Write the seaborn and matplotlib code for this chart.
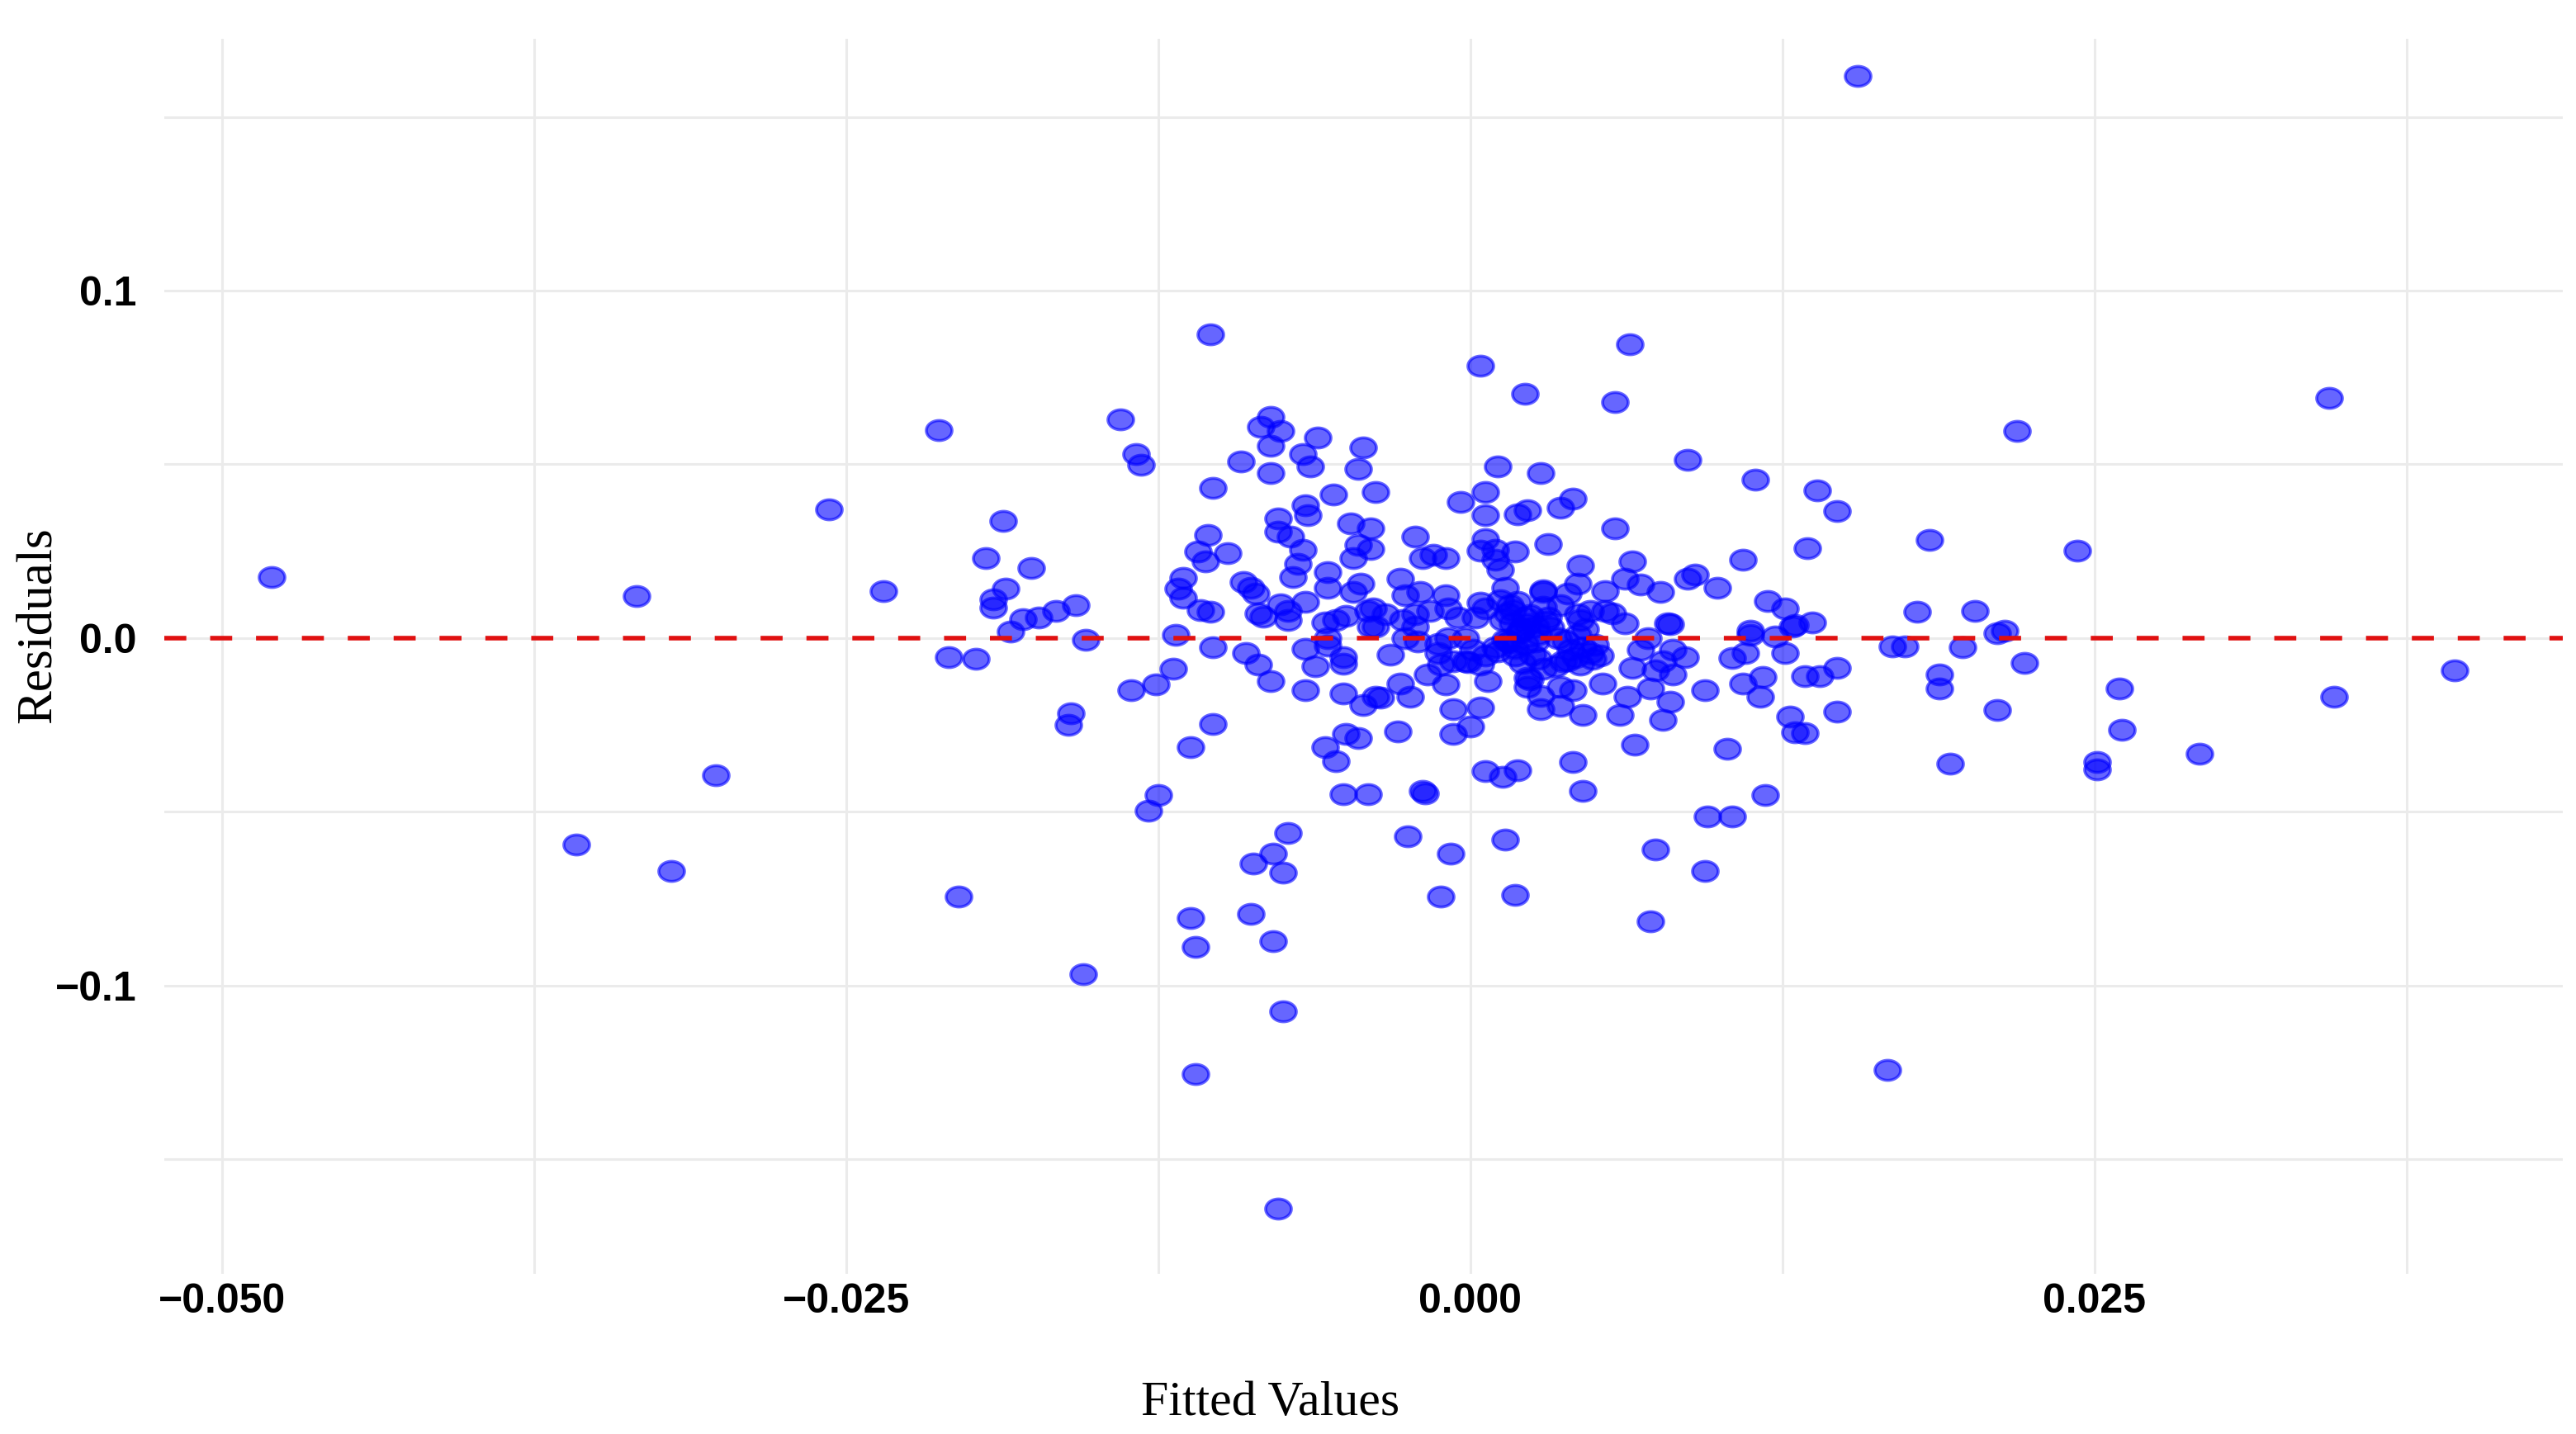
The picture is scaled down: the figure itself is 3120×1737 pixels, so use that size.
import numpy as np
import pandas as pd
import seaborn as sns
import matplotlib.pyplot as plt
from matplotlib.path import Path
from matplotlib.markers import MarkerStyle
from matplotlib.ticker import FixedLocator

# fitted values / residuals
fitted = [
    # left outliers
    -0.0480, -0.0334, -0.0302, -0.0358, -0.0320, -0.0257, -0.0235, -0.0213,
    # left-centre block
    -0.0104, -0.0140, -0.0134, -0.0132, -0.0187, -0.0194, -0.0176, -0.0186,
    -0.0191, -0.0191, -0.0179, -0.0173, -0.0166, -0.0158, -0.0184, -0.0154,
    -0.0209, -0.0198, -0.0160, -0.0161, -0.0118, -0.0103, -0.0119, -0.0126,
    -0.0136, -0.0103, -0.0112, -0.0103, -0.0092, -0.0084, -0.0080, -0.0076,
    -0.0080, -0.0080, -0.0067, -0.0064, -0.0061, -0.0043, -0.0045, -0.0055,
    -0.0066, -0.0065, -0.0038, -0.0077, -0.0077, -0.0072, -0.0067, -0.0069,
    -0.0071, -0.0105, -0.0109, -0.0106, -0.0097, -0.0115, -0.0117, -0.0115,
    -0.0108, -0.0104, -0.0091, -0.0088, -0.0086, -0.0085, -0.0083, -0.0076,
    -0.0073, -0.0073, -0.0066, -0.0057, -0.0057, -0.0048, -0.0040, -0.0045,
    -0.0040, -0.0047, -0.0044, -0.0047, -0.0058, -0.0054, -0.0050, -0.0041,
    -0.0040, -0.0057, -0.0066, -0.0062, -0.0051, -0.0051, -0.0057, -0.0090,
    -0.0085, -0.0080, -0.0066, -0.0051, -0.0043, -0.0038, -0.0050, -0.0045,
    -0.0058, -0.0054,
    # centre block
    0.0064, 0.0004, 0.0022, 0.0058, 0.0087, 0.0114, 0.0011, 0.0028,
    0.0006, -0.0004, 0.0006, 0.0019, 0.0023, 0.0036, 0.0041, -0.0022,
    -0.0019, -0.0015, -0.0010, 0.0031, 0.0058, 0.0006, 0.0004, 0.0010,
    0.0018, 0.0010, 0.0012, 0.0014, 0.0044, 0.0065, 0.0109, 0.0087,
    0.0090, 0.0099, 0.0062, 0.0068, 0.0076, 0.0054, 0.0043, 0.0029,
    0.0029, -0.0028, -0.0026, -0.0020, -0.0010, 0.0119, 0.0126, 0.0079,
    0.0080, 0.0129, 0.0112, 0.0112, 0.0122, 0.0126, 0.0110, 0.0105,
    0.0109, 0.0117, 0.0116, 0.0128, 0.0130, 0.0094, 0.0103, 0.0066,
    0.0041, 0.0071, 0.0068, 0.0081, 0.0086, 0.0077, 0.0065, 0.0074,
    0.0081, 0.0072, 0.0080, 0.0077, 0.0063, 0.0060, 0.0053, 0.0045,
    0.0041, 0.0036, 0.0036, 0.0028, 0.0028, 0.0023, 0.0024, 0.0023,
    0.0029, 0.0007, 0.0004, -0.0007, 0.0000, -0.0007, -0.0010, -0.0017,
    -0.0028, -0.0024, -0.0036, -0.0029, -0.0032, -0.0012, -0.0002, -0.0001,
    0.0052,
    # dense core
    0.0016, 0.0013, 0.0017, 0.0022, 0.0026, 0.0020, 0.0015, 0.0022,
    0.0026, 0.0018, 0.0010, 0.0006, 0.0031, 0.0036, 0.0039, 0.0043,
    0.0048, 0.0054, 0.0057, 0.0062, 0.0043, 0.0040, 0.0045, 0.0037,
    0.0044, 0.0048, 0.0035, 0.0004, 0.0006, 0.0002, -0.0005, -0.0009,
    -0.0016, -0.0022, -0.0027, -0.0034, -0.0039, -0.0038, -0.0022, -0.0026,
    -0.0021, -0.0013, -0.0009, -0.0002, 0.0001, -0.0013, -0.0007, 0.0004,
    0.0012, 0.0015, 0.0019, 0.0021, 0.0024, 0.0027, 0.0030, 0.0014,
    0.0018, 0.0023, 0.0027, 0.0011, 0.0016, 0.0020, 0.0025, 0.0032,
    0.0038, 0.0042, 0.0046, 0.0050, 0.0039, 0.0044, 0.0049, 0.0034,
    0.0017, 0.0021, 0.0029,
    # right-centre block
    0.0219, 0.0139, 0.0147, 0.0135, 0.0184, 0.0243, 0.0179, 0.0202,
    0.0137, 0.0130, 0.0214, 0.0211, 0.0169, 0.0174, 0.0197, 0.0222,
    0.0147, 0.0134, 0.0140, 0.0188, 0.0188, 0.0147, 0.0134, 0.0211,
    0.0260, 0.0261, 0.0292, 0.0192, 0.0251, 0.0251,
    # lower block
    -0.0125, -0.0129, -0.0051, -0.0041, -0.0073, -0.0079, -0.0087, -0.0075,
    -0.0205, -0.0112, -0.0088, -0.0079, -0.0110, -0.0155, -0.0075, -0.0110,
    -0.0077, -0.0019, -0.0018, -0.0025, -0.0008, -0.0012, 0.0014, 0.0018,
    0.0045, 0.0006, 0.0013, 0.0019, 0.0074, 0.0094, 0.0072, 0.0095,
    0.0105, 0.0118, 0.0167,
    # top and right outliers
    0.0155, 0.0344, 0.0346, 0.0394,
]

residuals = [
    0.0176, 0.0121, -0.0394, -0.0594, -0.0670, 0.0371, 0.0135, 0.0599,
    0.0874, 0.0629, 0.0529, 0.0499, 0.0338, 0.0231, 0.0202, 0.0142,
    0.0112, 0.0088, 0.0055, 0.0060, 0.0077, 0.0095, 0.0019, -0.0004,
    -0.0055, -0.0060, -0.0217, -0.0251, 0.0009, -0.0027, -0.0089, -0.0134,
    -0.0149, -0.0247, -0.0313, 0.0432, 0.0508, 0.0608, 0.0636, 0.0597,
    0.0554, 0.0474, 0.0529, 0.0493, 0.0576, 0.0548, 0.0486, 0.0414,
    0.0383, 0.0353, 0.0421, 0.0344, 0.0306, 0.0293, 0.0253, 0.0214,
    0.0176, 0.0296, 0.0248, 0.0221, 0.0244, 0.0174, 0.0143, 0.0115,
    0.0081, 0.0075, 0.0162, 0.0145, 0.0129, 0.0070, 0.0061, 0.0098,
    0.0077, 0.0051, 0.0104, 0.0189, 0.0145, 0.0329, 0.0316, 0.0268,
    0.0257, 0.0230, 0.0157, 0.0132, 0.0044, 0.0051, 0.0064, 0.0077,
    0.0034, 0.0000, -0.0032, -0.0081, -0.0055, -0.0075, -0.0021, -0.0043,
    -0.0077, -0.0123, -0.0151, -0.0160, -0.0194, -0.0170, -0.0276, -0.0287,
    -0.0315, -0.0355,
    0.0846, 0.0784, 0.0703, 0.0679, 0.0513, 0.0455, 0.0495, 0.0476,
    0.0421, 0.0391, 0.0353, 0.0355, 0.0367, 0.0376, 0.0401, 0.0291,
    0.0231, 0.0240, 0.0230, 0.0270, 0.0316, 0.0285, 0.0251, 0.0255,
    0.0248, 0.0225, 0.0196, 0.0145, 0.0208, 0.0221, 0.0225, 0.0170,
    0.0183, 0.0145, 0.0170, 0.0153, 0.0132, 0.0134, 0.0157, 0.0138,
    0.0132, 0.0170, 0.0123, 0.0133, 0.0123, 0.0106, 0.0085, 0.0043,
    0.0040, 0.0034, 0.0021, 0.0009, 0.0004, -0.0043, -0.0043, -0.0058,
    -0.0132, -0.0111, -0.0170, -0.0225, -0.0272, -0.0149, -0.0319, -0.0306,
    -0.0357, 0.0000, -0.0034, -0.0034, -0.0055, -0.0068, -0.0085, -0.0094,
    -0.0106, -0.0145, -0.0183, -0.0236, -0.0170, -0.0221, -0.0132, -0.0221,
    -0.0149, -0.0140, -0.0196, -0.0204, -0.0166, -0.0115, -0.0118, -0.0140,
    -0.0089, -0.0123, -0.0200, -0.0204, -0.0255, -0.0276, -0.0134, -0.0106,
    -0.0132, -0.0170, -0.0172, -0.0268, -0.0047, -0.0077, -0.0068, -0.0070,
    -0.0051,
    0.0094, 0.0051, 0.0043, 0.0060, 0.0034, 0.0017, -0.0009, -0.0017,
    -0.0009, -0.0051, -0.0026, -0.0051, 0.0060, 0.0094, 0.0128, 0.0068,
    0.0077, 0.0077, 0.0072, 0.0043, 0.0009, -0.0034, -0.0026, -0.0068,
    -0.0077, -0.0043, 0.0000, 0.0102, 0.0085, 0.0060, 0.0060, 0.0085,
    0.0077, 0.0068, 0.0051, 0.0068, 0.0085, 0.0034, 0.0034, 0.0000,
    -0.0009, -0.0017, 0.0000, 0.0000, -0.0034, -0.0043, -0.0068, -0.0077,
    0.0110, 0.0072, 0.0105, 0.0028, 0.0066, 0.0012, 0.0047, -0.0004,
    -0.0030, 0.0040, -0.0060, -0.0038, -0.0012, 0.0022, -0.0048, 0.0030,
    -0.0008, -0.0055, 0.0025, -0.0020, -0.0065, 0.0053, -0.0060, -0.0080,
    0.0080, -0.0072, 0.0090,
    0.0595, 0.0425, 0.0366, 0.0259, 0.0282, 0.0251, 0.0075, 0.0077,
    0.0044, 0.0038, 0.0021, 0.0013, -0.0024, -0.0024, -0.0026, -0.0071,
    -0.0085, -0.0109, -0.0109, -0.0104, -0.0146, -0.0213, -0.0274, -0.0206,
    -0.0146, -0.0264, -0.0333, -0.0361, -0.0357, -0.0378,
    -0.0451, -0.0497, -0.0449, -0.0449, -0.0560, -0.0621, -0.0648, -0.0675,
    -0.0744, -0.0807, -0.0793, -0.0872, -0.0888, -0.0968, -0.1074, -0.1254,
    -0.1643, -0.0440, -0.0448, -0.0570, -0.0621, -0.0744, -0.0581, -0.0739,
    -0.0440, -0.0382, -0.0399, -0.0380, -0.0608, -0.0670, -0.0815, -0.0514,
    -0.0514, -0.0453, -0.1244,
    0.1618, 0.0691, -0.0169, -0.0093,
]

x_ticks = [-0.050, -0.025, 0.000, 0.025]
x_labels = ['\u22120.050', '\u22120.025', '0.000', '0.025']
y_ticks = [-0.1, 0.0, 0.1]
y_labels = ['\u22120.1', '0.0', '0.1']

df = pd.DataFrame({'fitted': fitted, 'residuals': residuals})

sns.set_theme(style='white')
plt.rcParams['font.family'] = ['Liberation Sans', 'DejaVu Sans']

fig = plt.figure(figsize=(15.6, 8.685), dpi=200)
ax = fig.add_axes([0.0638, 0.1117, 0.9311, 0.8613])

# the source image is stretched sideways, so the points are ellipses
t = np.linspace(0, 2 * np.pi, 60)
ellipse = MarkerStyle(Path(np.column_stack([np.cos(t), 0.78 * np.sin(t)]), closed=True))

sns.scatterplot(data=df, x='fitted', y='residuals', ax=ax, marker=ellipse,
                s=125, color='blue', edgecolor='blue', linewidth=1.3,
                alpha=0.6, zorder=3)

ax.axhline(0, color='#e01010', linewidth=2.0, linestyle=(0, (4.8, 5.2)), zorder=4)

ax.set_xlim(-0.0523, 0.04375)
ax.set_ylim(-0.183, 0.1725)

# major and minor grid, ggplot minimal style
ax.xaxis.set_major_locator(FixedLocator(x_ticks))
ax.yaxis.set_major_locator(FixedLocator(y_ticks))
ax.xaxis.set_minor_locator(FixedLocator([-0.0375, -0.0125, 0.0125, 0.0375]))
ax.yaxis.set_minor_locator(FixedLocator([-0.15, -0.05, 0.05, 0.15]))
ax.set_xticklabels(x_labels)
ax.set_yticklabels(y_labels)
ax.grid(True, which='both', color='#ebebeb', linewidth=1.1, zorder=0)
ax.set_axisbelow(True)
for sp in ax.spines.values():
    sp.set_visible(False)

ax.tick_params(axis='both', which='both', length=0)
ax.tick_params(axis='x', pad=4, labelsize=18, labelcolor='black')
ax.tick_params(axis='y', pad=12, labelsize=18, labelcolor='black')
for lab in ax.get_xticklabels() + ax.get_yticklabels():
    lab.set_fontweight('bold')

ax.set_xlabel('Fitted Values', family=['Liberation Serif', 'DejaVu Serif'],
              fontsize=21.5, color='black')
ax.set_ylabel('Residuals', family=['Liberation Serif', 'DejaVu Serif'],
              fontsize=22, color='black')
ax.xaxis.set_label_coords(0.461, -0.087)
ax.yaxis.set_label_coords(-0.043, 0.525)

fig.savefig('out.png', dpi=200, facecolor='white')
